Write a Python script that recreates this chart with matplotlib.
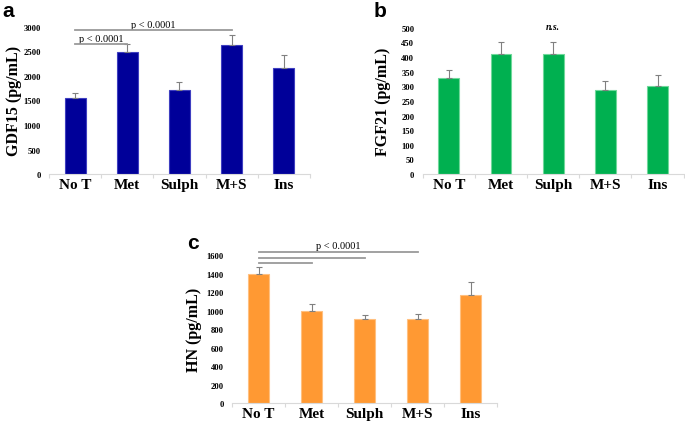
import matplotlib
matplotlib.use('Agg')
import matplotlib.pyplot as plt
import numpy as np

groups = ['No T', 'Met', 'Sulph', 'M+S', 'Ins']

gdf15_mean = [1540, 2490, 1717, 2627, 2153]
gdf15_err = [103, 150, 153, 210, 270]

fgf21_mean = [327, 411, 411, 288, 302]
fgf21_err = [27, 41, 39, 30, 37]

hn_mean = [1395, 996, 906, 913, 1165]
hn_err = [72, 72, 50, 47, 140]

serif = 'Liberation Serif'
grey = '#9a9a9a'


def bar_panel(ax, means, errs, color, edge, ymax, ystep, ylabel, label_x):
    x = np.arange(len(groups))
    ax.bar(x, means, width=0.4, color=color, edgecolor=edge, linewidth=0.8, zorder=2)
    ax.errorbar(x, means, yerr=[np.zeros(len(errs)), errs], fmt='none',
                ecolor='#808080', elinewidth=0.8, capsize=2.5, capthick=0.8, zorder=3)
    ax.set_xlim(-0.5, len(groups) - 0.5)
    ax.set_ylim(0, ymax)
    ax.set_yticks(np.arange(0, ymax + 1, ystep))
    ax.set_yticklabels([str(v) for v in np.arange(0, ymax + 1, ystep)],
                       fontfamily=serif, fontweight='bold', fontsize=6.2)
    ax.set_xticks(x)
    ax.set_xticklabels(groups, fontfamily=serif, fontweight='bold', fontsize=11)
    ax.set_xticks(np.arange(-0.5, len(groups), 1), minor=True)
    ax.tick_params(axis='x', which='major', length=0, pad=3)
    ax.tick_params(axis='x', which='minor', length=3, color='#d9d9d9', width=0.8)
    ax.tick_params(axis='y', length=0, pad=6)
    for s in ['top', 'right', 'left']:
        ax.spines[s].set_visible(False)
    ax.spines['bottom'].set_color('#d9d9d9')
    ax.spines['bottom'].set_linewidth(0.8)
    ax.set_ylabel(ylabel, fontfamily=serif, fontweight='bold', fontsize=11.5)
    ax.yaxis.set_label_coords(label_x, 0.5)


def sig_line(ax, x0, x1, y, text=None, ty=None):
    ax.plot([x0, x1], [y, y], color=grey, lw=1.3, clip_on=False, zorder=4)
    if text:
        ax.text((x0 + x1) / 2, ty, text, ha='center', va='bottom',
                fontfamily=serif, fontsize=7.5)


fig = plt.figure(figsize=(6.85, 4.27), dpi=100)

ax_a = fig.add_axes([0.0715, 0.590, 0.381, 0.345])
bar_panel(ax_a, gdf15_mean, gdf15_err, '#000099', '#3f3fc0', 3000, 500, 'GDF15 (pg/mL)', -0.102)
sig_line(ax_a, 0, 3, 2940, 'p < 0.0001', 2960)
sig_line(ax_a, 0, 1, 2640, 'p < 0.0001', 2660)

ax_b = fig.add_axes([0.617, 0.590, 0.381, 0.3426])
bar_panel(ax_b, fgf21_mean, fgf21_err, '#00b050', '#6fd89a', 500, 50, 'FGF21 (pg/mL)', -0.122)
ax_b.text(2, 490, 'n.s.', ha='center', va='bottom', fontfamily=serif,
          fontstyle='italic', fontweight='bold', fontsize=7)

ax_c = fig.add_axes([0.3387, 0.0532, 0.387, 0.347])
bar_panel(ax_c, hn_mean, hn_err, '#ff9933', '#ffc080', 1600, 200, 'HN (pg/mL)', -0.112)
sig_line(ax_c, 0, 3, 1630, 'p < 0.0001', 1650)
sig_line(ax_c, 0, 2, 1570)
sig_line(ax_c, 0, 1, 1520)

for lab, (x, y) in zip(['a', 'b', 'c'], [(0.004, 0.960), (0.545, 0.960), (0.273, 0.418)]):
    fig.text(x, y, lab, fontfamily='Liberation Sans', fontweight='bold', fontsize=15)

fig.savefig('out.png', dpi=100)
